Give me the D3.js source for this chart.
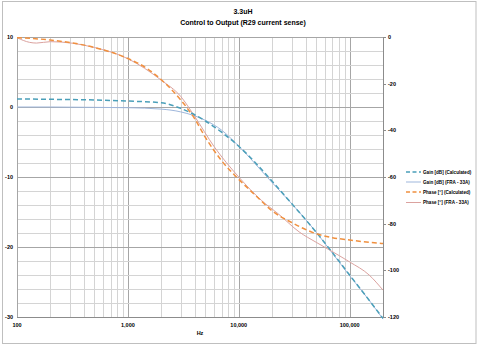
<!DOCTYPE html>
<html>
<head>
<meta charset="utf-8">
<script src="https://cdn.jsdelivr.net/npm/d3@7/dist/d3.min.js"></script>
<style>
  html, body { margin: 0; padding: 0; background: #fff; }
  svg { display: block; font-family: "Liberation Sans", Arial, sans-serif; }
</style>
</head>
<body>
<svg id="chart" width="480" height="346"></svg>
<script>
// Frequency sweep points (Hz)
const gainCalcFreq = [100, 200, 500, 1000, 2000, 3000, 5000, 7000, 10000, 20000, 30000, 50000, 70000, 100000, 150000, 200000];
const gainCalc     = [1.15, 1.1, 1.0, 0.85, 0.6, -0.2, -2.0, -3.6, -5.6, -10.6, -13.8, -17.9, -20.8, -24.0, -27.6, -30.2];

const gainMeasFreq = [100, 200, 500, 1000, 2000, 3000, 5000, 7000, 10000, 20000, 30000, 50000, 70000, 100000, 150000, 200000];
const gainMeas     = [0.0, 0.0, -0.05, -0.1, -0.3, -0.7, -1.9, -3.3, -5.6, -10.8, -13.8, -17.9, -20.9, -24.1, -27.6, -30.3];

const phaseCalcFreq = [100, 200, 500, 1000, 1500, 2000, 3000, 4000, 5000, 7000, 10000, 15000, 20000, 30000, 50000, 70000, 100000, 150000, 200000];
const phaseCalc     = [-0.3, -1.3, -4.5, -9.2, -13.6, -18.3, -27, -35, -43, -53, -61, -69, -74.5, -79.5, -84.3, -86, -87, -88, -88.5];

const phaseMeasFreq = [100, 130, 150, 200, 500, 1000, 2000, 3000, 4000, 6000, 10000, 16000, 23000, 35000, 50000, 66000, 100000, 150000, 200000];
const phaseMeas     = [-0.3, -2.3, -2.6, -2.0, -4.5, -9.3, -18.5, -25.5, -34, -47, -60, -70, -76, -83.5, -88, -91.3, -96.4, -102, -108.5];

// Axis ticks
const xTicks = [100, 1000, 10000, 100000];
const leftTicks = [10, 0, -10, -20, -30];
const rightTicks = [0, -20, -40, -60, -80, -100, -120];

const titleLines = ["3.3uH", "Control to Output (R29 current sense)"];
const xTitle = "Hz";
const seriesNames = ["Gain [dB] (Calculated)", "Gain [dB] (FRA - 33A)", "Phase [°] (Calculated)", "Phase [°] (FRA - 33A)"];

const svg = d3.select("#chart");
const plot = { left: 17, right: 383, top: 37, bottom: 317 };

const x = d3.scaleLog().domain([100, 200000]).range([plot.left, plot.right]);
const yL = d3.scaleLinear().domain([-30, 10]).range([plot.bottom, plot.top]);
const yR = d3.scaleLinear().domain([-120, 0]).range([plot.bottom, plot.top]);

// chart frame
svg.append("rect")
  .attr("x", 2.5).attr("y", 1.5).attr("width", 473.5).attr("height", 342)
  .attr("fill", "#fff").attr("stroke", "#bfbfbf").attr("stroke-width", 1);

// vertical grid: 1..9 per decade
const vGrid = [];
for (let d = 100; d < 200000; d *= 10) {
  for (let k = 1; k <= 9; k++) {
    const f = d * k;
    if (f > 100 && f <= 200000) vGrid.push(f);
  }
}
svg.append("g").selectAll("line").data(vGrid).join("line")
  .attr("x1", d => Math.round(x(d)) + 0.5).attr("x2", d => Math.round(x(d)) + 0.5)
  .attr("y1", plot.top).attr("y2", plot.bottom)
  .attr("stroke", d => (Math.log10(d) % 1 === 0) ? "#a6a6a6" : "#d4d4d4")
  .attr("stroke-width", 1);

// horizontal grid every 2 dB
const hGrid = d3.range(-28, 11, 2);
svg.append("g").selectAll("line").data(hGrid).join("line")
  .attr("x1", plot.left).attr("x2", plot.right)
  .attr("y1", d => Math.round(yL(d)) + 0.5).attr("y2", d => Math.round(yL(d)) + 0.5)
  .attr("stroke", d => (d % 10 === 0) ? "#a6a6a6" : "#d4d4d4")
  .attr("stroke-width", 1);

// axis lines
svg.append("line").attr("x1", plot.left + 0.5).attr("x2", plot.left + 0.5)
  .attr("y1", plot.top).attr("y2", plot.bottom).attr("stroke", "#a6a6a6");
svg.append("line").attr("x1", plot.right + 0.5).attr("x2", plot.right + 0.5)
  .attr("y1", plot.top).attr("y2", plot.bottom).attr("stroke", "#8c8c8c");
svg.append("line").attr("x1", plot.left).attr("x2", plot.right)
  .attr("y1", plot.bottom + 0.5).attr("y2", plot.bottom + 0.5).attr("stroke", "#8c8c8c");

// right axis tick marks
svg.append("g").selectAll("line").data(rightTicks).join("line")
  .attr("x1", plot.right).attr("x2", plot.right + 3)
  .attr("y1", d => Math.round(yR(d)) + 0.5).attr("y2", d => Math.round(yR(d)) + 0.5)
  .attr("stroke", "#8c8c8c");

const fmt = d3.format(",");
const tickSize = 5.5;

svg.append("g").selectAll("text").data(leftTicks).join("text")
  .attr("x", plot.left - 4).attr("y", d => yL(d))
  .attr("dy", "0.35em").attr("text-anchor", "end")
  .attr("font-size", tickSize).attr("font-weight", "bold")
  .text(d => d);

svg.append("g").selectAll("text").data(rightTicks).join("text")
  .attr("x", plot.right + 5).attr("y", d => yR(d))
  .attr("dy", "0.35em").attr("text-anchor", "start")
  .attr("font-size", tickSize).attr("font-weight", "bold")
  .text(d => d);

svg.append("g").selectAll("text").data(xTicks).join("text")
  .attr("x", d => x(d)).attr("y", plot.bottom + 8)
  .attr("dy", "0.35em").attr("text-anchor", "middle")
  .attr("font-size", tickSize).attr("font-weight", "bold")
  .text(d => fmt(d));

svg.append("text")
  .attr("x", (plot.left + plot.right) / 2).attr("y", plot.bottom + 16)
  .attr("dy", "0.35em").attr("text-anchor", "middle")
  .attr("font-size", 5.5).attr("font-weight", "bold")
  .text(xTitle);

// title
svg.append("g").selectAll("text").data(titleLines).join("text")
  .attr("x", 243).attr("y", (d, i) => 12 + i * 10.5)
  .attr("dy", "0.35em").attr("text-anchor", "middle")
  .attr("font-size", 7).attr("font-weight", "bold")
  .text(d => d);

// series
const series = [
  { f: gainCalcFreq, v: gainCalc, y: yL, color: "#4a9fb9", width: 1.5, dash: "5,3" },
  { f: gainMeasFreq, v: gainMeas, y: yL, color: "#9fb7dc", width: 1, dash: null },
  { f: phaseCalcFreq, v: phaseCalc, y: yR, color: "#f0903f", width: 1.5, dash: "5,3" },
  { f: phaseMeasFreq, v: phaseMeas, y: yR, color: "#dba29f", width: 1, dash: null }
];

const drawOrder = [1, 3, 0, 2];
const gLines = svg.append("g");
drawOrder.forEach(i => {
  const s = series[i];
  const pts = s.f.map((f, j) => [f, s.v[j]]);
  const line = d3.line()
    .x(d => x(d[0])).y(d => s.y(d[1]))
    .curve(d3.curveMonotoneX);
  gLines.append("path")
    .attr("d", line(pts))
    .attr("fill", "none")
    .attr("stroke", s.color)
    .attr("stroke-width", s.width)
    .attr("stroke-dasharray", s.dash);
});

// legend
const legendY = [172, 182, 192, 202.5];
const lg = svg.append("g");
series.forEach((s, i) => {
  lg.append("line")
    .attr("x1", 406).attr("x2", 421)
    .attr("y1", legendY[i]).attr("y2", legendY[i])
    .attr("stroke", s.color).attr("stroke-width", s.width)
    .attr("stroke-dasharray", s.dash ? "4,2.5" : null);
  lg.append("text")
    .attr("x", 423).attr("y", legendY[i]).attr("dy", "0.35em")
    .attr("font-size", 4.6).attr("font-weight", "bold")
    .text(seriesNames[i]);
});
</script>
</body>
</html>
